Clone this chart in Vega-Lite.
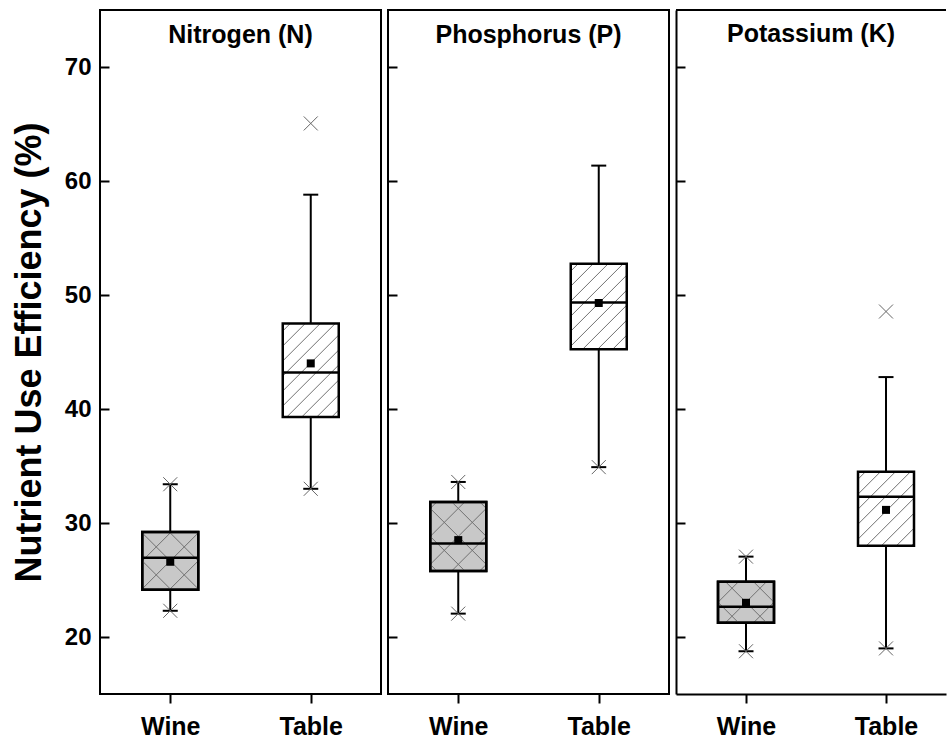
{
  "$schema": "https://vega.github.io/schema/vega-lite/v6.json",
  "padding": {"left": 10, "top": 9, "right": 0, "bottom": 0},
  "background": "white",
  "bounds": "flush",
  "spacing": 7,
  "config": {
    "font": "Liberation Sans",
    "view": {"stroke": "black", "strokeWidth": 2},
    "axis": {"grid": false, "domain": false, "labelColor": "black", "tickColor": "black", "tickWidth": 2, "labelFontWeight": "bold", "titleFontWeight": "bold", "titleColor": "black"},
    "tick": {"opacity": 1},
    "title": {"fontSize": 25, "fontWeight": "bold", "color": "black", "frame": "group", "anchor": "middle", "baseline": "alphabetic", "offset": -38}
  },
  "datasets": {
    "boxes": [
      {"nutrient": "N", "type": "Wine", "min": 22.3, "q1": 24.15, "median": 26.95, "q3": 29.2, "max": 33.4, "mean": 26.6},
      {"nutrient": "N", "type": "Table", "min": 33.0, "q1": 39.3, "median": 43.2, "q3": 47.5, "max": 58.8, "mean": 44.0},
      {"nutrient": "P", "type": "Wine", "min": 22.05, "q1": 25.8, "median": 28.2, "q3": 31.85, "max": 33.6, "mean": 28.5},
      {"nutrient": "P", "type": "Table", "min": 34.9, "q1": 45.25, "median": 49.35, "q3": 52.75, "max": 61.35, "mean": 49.3},
      {"nutrient": "K", "type": "Wine", "min": 18.75, "q1": 21.25, "median": 22.65, "q3": 24.85, "max": 27.05, "mean": 23.0},
      {"nutrient": "K", "type": "Table", "min": 19.0, "q1": 28.0, "median": 32.3, "q3": 34.5, "max": 42.8, "mean": 31.15}
    ],
    "crosses": [
      {"nutrient": "N", "type": "Wine", "value": 22.3},
      {"nutrient": "N", "type": "Wine", "value": 33.4},
      {"nutrient": "N", "type": "Table", "value": 33.0},
      {"nutrient": "N", "type": "Table", "value": 65.05},
      {"nutrient": "P", "type": "Wine", "value": 22.05},
      {"nutrient": "P", "type": "Wine", "value": 33.6},
      {"nutrient": "P", "type": "Table", "value": 34.9},
      {"nutrient": "K", "type": "Wine", "value": 18.75},
      {"nutrient": "K", "type": "Wine", "value": 27.05},
      {"nutrient": "K", "type": "Table", "value": 19.0},
      {"nutrient": "K", "type": "Table", "value": 48.55}
    ]
  },
  "hconcat": [
    {
      "width": 281, "height": 684,
      "title": {"text": "Nitrogen (N)"},
      "resolve": {"axis": {"y": "independent"}},
      "encoding": {
        "x": {"field": "type", "type": "nominal", "sort": ["Wine", "Table"], "scale": {"type": "point", "padding": 0.5},
              "axis": {"title": null, "labelAngle": 0, "labelFontSize": 25, "labelPadding": 11, "tickSize": 9}}
      },
      "layer": [
        {"data": {"name": "boxes"}, "transform": [{"filter": "datum.nutrient === 'N'"}],
         "layer": [
          {"mark": {"type": "rule", "color": "black", "strokeWidth": 2},
           "encoding": {"y": {"field": "min", "type": "quantitative", "scale": {"domain": [15, 75], "nice": false, "zero": false},
                              "axis": {"orient": "left", "title": null, "labels": false, "tickSize": 9, "offset": -9, "values": [20, 30, 40, 50, 60, 70]}},
                        "y2": {"field": "max"}}},
          {"mark": {"type": "tick", "color": "black", "size": 15, "thickness": 2}, "encoding": {"y": {"field": "min", "type": "quantitative"}}},
          {"mark": {"type": "tick", "color": "black", "size": 15, "thickness": 2}, "encoding": {"y": {"field": "max", "type": "quantitative"}}},
          {"mark": {"type": "bar", "size": 56, "stroke": "black", "strokeWidth": 2.5},
           "encoding": {"y": {"field": "q1", "type": "quantitative"}, "y2": {"field": "q3"},
                        "fill": {"condition": {"test": "datum.type === 'Wine'",
                                   "value": {"gradient": "linear", "x1": 0, "y1": 0, "x2": 0.9857, "y2": 1.0139, "stops": [
                                     {"offset": 0.2447, "color": "#c8c8c8"}, {"offset": 0.2535, "color": "#707070"}, {"offset": 0.2623, "color": "#c8c8c8"},
                                     {"offset": 0.4912, "color": "#c8c8c8"}, {"offset": 0.5, "color": "#707070"}, {"offset": 0.5088, "color": "#c8c8c8"},
                                     {"offset": 0.7377, "color": "#c8c8c8"}, {"offset": 0.7465, "color": "#707070"}, {"offset": 0.7553, "color": "#c8c8c8"}]}},
                                 "value": {"gradient": "linear", "x1": 0, "y1": 0, "x2": 0.7048, "y2": 1.1768, "stops": [
                                     {"offset": 0.0435, "color": "#ffffff"}, {"offset": 0.0502, "color": "#707070"}, {"offset": 0.0569, "color": "#ffffff"},
                                     {"offset": 0.1438, "color": "#ffffff"}, {"offset": 0.1505, "color": "#707070"}, {"offset": 0.1572, "color": "#ffffff"},
                                     {"offset": 0.2441, "color": "#ffffff"}, {"offset": 0.2508, "color": "#707070"}, {"offset": 0.2575, "color": "#ffffff"},
                                     {"offset": 0.3445, "color": "#ffffff"}, {"offset": 0.3512, "color": "#707070"}, {"offset": 0.3579, "color": "#ffffff"},
                                     {"offset": 0.4448, "color": "#ffffff"}, {"offset": 0.4515, "color": "#707070"}, {"offset": 0.4582, "color": "#ffffff"},
                                     {"offset": 0.5452, "color": "#ffffff"}, {"offset": 0.5518, "color": "#707070"}, {"offset": 0.5585, "color": "#ffffff"},
                                     {"offset": 0.6455, "color": "#ffffff"}, {"offset": 0.6522, "color": "#707070"}, {"offset": 0.6589, "color": "#ffffff"},
                                     {"offset": 0.7458, "color": "#ffffff"}, {"offset": 0.7525, "color": "#707070"}, {"offset": 0.7592, "color": "#ffffff"},
                                     {"offset": 0.8462, "color": "#ffffff"}, {"offset": 0.8528, "color": "#707070"}, {"offset": 0.8595, "color": "#ffffff"},
                                     {"offset": 0.9465, "color": "#ffffff"}, {"offset": 0.9532, "color": "#707070"}, {"offset": 0.9599, "color": "#ffffff"}]}}}},
          {"transform": [{"filter": "datum.type === 'Wine'"}],
           "mark": {"type": "bar", "size": 56, "stroke": "black", "strokeWidth": 2.5,
                    "fill": {"gradient": "linear", "x1": 0, "y1": 1, "x2": 0.9857, "y2": -0.0139, "stops": [
                      {"offset": 0.2447, "color": "rgba(112,112,112,0)"}, {"offset": 0.2535, "color": "#707070"}, {"offset": 0.2623, "color": "rgba(112,112,112,0)"},
                      {"offset": 0.4912, "color": "rgba(112,112,112,0)"}, {"offset": 0.5, "color": "#707070"}, {"offset": 0.5088, "color": "rgba(112,112,112,0)"},
                      {"offset": 0.7377, "color": "rgba(112,112,112,0)"}, {"offset": 0.7465, "color": "#707070"}, {"offset": 0.7553, "color": "rgba(112,112,112,0)"}]}},
           "encoding": {"y": {"field": "q1", "type": "quantitative"}, "y2": {"field": "q3"}}},
          {"mark": {"type": "tick", "color": "black", "size": 56, "thickness": 2.5}, "encoding": {"y": {"field": "median", "type": "quantitative"}}},
          {"mark": {"type": "square", "color": "black", "size": 64, "opacity": 1}, "encoding": {"y": {"field": "mean", "type": "quantitative"}}}
         ]},
        {"data": {"name": "crosses"}, "transform": [{"filter": "datum.nutrient === 'N'"}],
         "mark": {"type": "point", "shape": "M-1,-1L1,1M-1,1L1,-1", "size": 196, "stroke": "#666666", "strokeWidth": 1, "filled": false, "opacity": 1},
         "encoding": {"y": {"field": "value", "type": "quantitative",
                            "axis": {"orient": "left", "title": "Nutrient Use Efficiency (%)", "titleFontSize": 36, "titlePadding": 16, "labelFontSize": 24, "labelPadding": 9, "ticks": false, "values": [20, 30, 40, 50, 60, 70]}}}}
      ]
    },
    {
      "width": 281, "height": 684,
      "title": {"text": "Phosphorus (P)"},
      "encoding": {
        "x": {"field": "type", "type": "nominal", "sort": ["Wine", "Table"], "scale": {"type": "point", "padding": 0.5},
              "axis": {"title": null, "labelAngle": 0, "labelFontSize": 25, "labelPadding": 11, "tickSize": 9}}
      },
      "layer": [
        {"data": {"name": "boxes"}, "transform": [{"filter": "datum.nutrient === 'P'"}],
         "layer": [
          {"mark": {"type": "rule", "color": "black", "strokeWidth": 2},
           "encoding": {"y": {"field": "min", "type": "quantitative", "scale": {"domain": [15, 75], "nice": false, "zero": false},
                              "axis": {"title": null, "labels": false, "tickSize": 9, "offset": -9, "values": [20, 30, 40, 50, 60, 70]}},
                        "y2": {"field": "max"}}},
          {"mark": {"type": "tick", "color": "black", "size": 15, "thickness": 2}, "encoding": {"y": {"field": "min", "type": "quantitative"}}},
          {"mark": {"type": "tick", "color": "black", "size": 15, "thickness": 2}, "encoding": {"y": {"field": "max", "type": "quantitative"}}},
          {"mark": {"type": "bar", "size": 56, "stroke": "black", "strokeWidth": 2.5},
           "encoding": {"y": {"field": "q1", "type": "quantitative"}, "y2": {"field": "q3"},
                        "fill": {"condition": {"test": "datum.type === 'Wine'",
                                   "value": {"gradient": "linear", "x1": 0, "y1": 0, "x2": 0.8864, "y2": 1.0922, "stops": [
                                     {"offset": 0.044, "color": "#c8c8c8"}, {"offset": 0.052, "color": "#707070"}, {"offset": 0.06, "color": "#c8c8c8"},
                                     {"offset": 0.268, "color": "#c8c8c8"}, {"offset": 0.276, "color": "#707070"}, {"offset": 0.284, "color": "#c8c8c8"},
                                     {"offset": 0.492, "color": "#c8c8c8"}, {"offset": 0.5, "color": "#707070"}, {"offset": 0.508, "color": "#c8c8c8"},
                                     {"offset": 0.716, "color": "#c8c8c8"}, {"offset": 0.724, "color": "#707070"}, {"offset": 0.732, "color": "#c8c8c8"},
                                     {"offset": 0.94, "color": "#c8c8c8"}, {"offset": 0.948, "color": "#707070"}, {"offset": 0.956, "color": "#c8c8c8"}]}},
                                 "value": {"gradient": "linear", "x1": 0, "y1": 0, "x2": 0.7586, "y2": 1.1582, "stops": [
                                     {"offset": 0.0459, "color": "#ffffff"}, {"offset": 0.053, "color": "#707070"}, {"offset": 0.0601, "color": "#ffffff"},
                                     {"offset": 0.1519, "color": "#ffffff"}, {"offset": 0.159, "color": "#707070"}, {"offset": 0.1661, "color": "#ffffff"},
                                     {"offset": 0.258, "color": "#ffffff"}, {"offset": 0.265, "color": "#707070"}, {"offset": 0.2721, "color": "#ffffff"},
                                     {"offset": 0.364, "color": "#ffffff"}, {"offset": 0.371, "color": "#707070"}, {"offset": 0.3781, "color": "#ffffff"},
                                     {"offset": 0.47, "color": "#ffffff"}, {"offset": 0.477, "color": "#707070"}, {"offset": 0.4841, "color": "#ffffff"},
                                     {"offset": 0.576, "color": "#ffffff"}, {"offset": 0.583, "color": "#707070"}, {"offset": 0.5901, "color": "#ffffff"},
                                     {"offset": 0.682, "color": "#ffffff"}, {"offset": 0.689, "color": "#707070"}, {"offset": 0.6961, "color": "#ffffff"},
                                     {"offset": 0.788, "color": "#ffffff"}, {"offset": 0.7951, "color": "#707070"}, {"offset": 0.8021, "color": "#ffffff"},
                                     {"offset": 0.894, "color": "#ffffff"}, {"offset": 0.9011, "color": "#707070"}, {"offset": 0.9081, "color": "#ffffff"}]}}}},
          {"transform": [{"filter": "datum.type === 'Wine'"}],
           "mark": {"type": "bar", "size": 56, "stroke": "black", "strokeWidth": 2.5,
                    "fill": {"gradient": "linear", "x1": 0, "y1": 1, "x2": 0.8864, "y2": -0.0922, "stops": [
                      {"offset": 0.044, "color": "rgba(112,112,112,0)"}, {"offset": 0.052, "color": "#707070"}, {"offset": 0.06, "color": "rgba(112,112,112,0)"},
                      {"offset": 0.268, "color": "rgba(112,112,112,0)"}, {"offset": 0.276, "color": "#707070"}, {"offset": 0.284, "color": "rgba(112,112,112,0)"},
                      {"offset": 0.492, "color": "rgba(112,112,112,0)"}, {"offset": 0.5, "color": "#707070"}, {"offset": 0.508, "color": "rgba(112,112,112,0)"},
                      {"offset": 0.716, "color": "rgba(112,112,112,0)"}, {"offset": 0.724, "color": "#707070"}, {"offset": 0.732, "color": "rgba(112,112,112,0)"},
                      {"offset": 0.94, "color": "rgba(112,112,112,0)"}, {"offset": 0.948, "color": "#707070"}, {"offset": 0.956, "color": "rgba(112,112,112,0)"}]}},
           "encoding": {"y": {"field": "q1", "type": "quantitative"}, "y2": {"field": "q3"}}},
          {"mark": {"type": "tick", "color": "black", "size": 56, "thickness": 2.5}, "encoding": {"y": {"field": "median", "type": "quantitative"}}},
          {"mark": {"type": "square", "color": "black", "size": 64, "opacity": 1}, "encoding": {"y": {"field": "mean", "type": "quantitative"}}}
         ]},
        {"data": {"name": "crosses"}, "transform": [{"filter": "datum.nutrient === 'P'"}],
         "mark": {"type": "point", "shape": "M-1,-1L1,1M-1,1L1,-1", "size": 196, "stroke": "#666666", "strokeWidth": 1, "filled": false, "opacity": 1},
         "encoding": {"y": {"field": "value", "type": "quantitative"}}}
      ]
    },
    {
      "width": 270, "height": 684,
      "view": {"stroke": null},
      "title": {"text": "Potassium (K)"},
      "layer": [
        {"data": {"name": "boxes"}, "transform": [{"filter": "datum.nutrient === 'K'"}],
         "encoding": {
           "x": {"field": "type", "type": "nominal", "sort": ["Wine", "Table"], "scale": {"type": "point", "padding": 0.4643, "align": 0.5385},
                 "axis": {"title": null, "labelAngle": 0, "labelFontSize": 25, "labelPadding": 11, "tickSize": 9, "domain": true, "domainColor": "black", "domainWidth": 2}}
         },
         "layer": [
          {"mark": {"type": "rule", "color": "black", "strokeWidth": 2},
           "encoding": {"y": {"field": "min", "type": "quantitative", "scale": {"domain": [15, 75], "nice": false, "zero": false},
                              "axis": {"title": null, "labels": false, "tickSize": -9, "domain": true, "domainColor": "black", "domainWidth": 2, "values": [20, 30, 40, 50, 60, 70]}},
                        "y2": {"field": "max"}}},
          {"mark": {"type": "tick", "color": "black", "size": 15, "thickness": 2}, "encoding": {"y": {"field": "min", "type": "quantitative"}}},
          {"mark": {"type": "tick", "color": "black", "size": 15, "thickness": 2}, "encoding": {"y": {"field": "max", "type": "quantitative"}}},
          {"mark": {"type": "bar", "size": 56, "stroke": "black", "strokeWidth": 2.5},
           "encoding": {"y": {"field": "q1", "type": "quantitative"}, "y2": {"field": "q3"},
                        "fill": {"condition": {"test": "datum.type === 'Wine'",
                                   "value": {"gradient": "linear", "x1": 0, "y1": 0, "x2": 1.1277, "y2": 0.8256, "stops": [
                                     {"offset": 0.201, "color": "#c8c8c8"}, {"offset": 0.2113, "color": "#707070"}, {"offset": 0.2216, "color": "#c8c8c8"},
                                     {"offset": 0.4897, "color": "#c8c8c8"}, {"offset": 0.5, "color": "#707070"}, {"offset": 0.5103, "color": "#c8c8c8"},
                                     {"offset": 0.7784, "color": "#c8c8c8"}, {"offset": 0.7887, "color": "#707070"}, {"offset": 0.799, "color": "#c8c8c8"}]}},
                                 "value": {"gradient": "linear", "x1": 0, "y1": 0, "x2": 0.8445, "y2": 1.1175, "stops": [
                                     {"offset": 0.0499, "color": "#ffffff"}, {"offset": 0.0576, "color": "#707070"}, {"offset": 0.0653, "color": "#ffffff"},
                                     {"offset": 0.1653, "color": "#ffffff"}, {"offset": 0.1729, "color": "#707070"}, {"offset": 0.1806, "color": "#ffffff"},
                                     {"offset": 0.2806, "color": "#ffffff"}, {"offset": 0.2882, "color": "#707070"}, {"offset": 0.2959, "color": "#ffffff"},
                                     {"offset": 0.3958, "color": "#ffffff"}, {"offset": 0.4035, "color": "#707070"}, {"offset": 0.4112, "color": "#ffffff"},
                                     {"offset": 0.5111, "color": "#ffffff"}, {"offset": 0.5188, "color": "#707070"}, {"offset": 0.5265, "color": "#ffffff"},
                                     {"offset": 0.6264, "color": "#ffffff"}, {"offset": 0.6341, "color": "#707070"}, {"offset": 0.6418, "color": "#ffffff"},
                                     {"offset": 0.7417, "color": "#ffffff"}, {"offset": 0.7494, "color": "#707070"}, {"offset": 0.7571, "color": "#ffffff"},
                                     {"offset": 0.857, "color": "#ffffff"}, {"offset": 0.8647, "color": "#707070"}, {"offset": 0.8724, "color": "#ffffff"},
                                     {"offset": 0.9723, "color": "#ffffff"}, {"offset": 0.98, "color": "#707070"}, {"offset": 0.9877, "color": "#ffffff"}]}}}},
          {"transform": [{"filter": "datum.type === 'Wine'"}],
           "mark": {"type": "bar", "size": 56, "stroke": "black", "strokeWidth": 2.5,
                    "fill": {"gradient": "linear", "x1": 0, "y1": 1, "x2": 1.1277, "y2": 0.1744, "stops": [
                      {"offset": 0.201, "color": "rgba(112,112,112,0)"}, {"offset": 0.2113, "color": "#707070"}, {"offset": 0.2216, "color": "rgba(112,112,112,0)"},
                      {"offset": 0.4897, "color": "rgba(112,112,112,0)"}, {"offset": 0.5, "color": "#707070"}, {"offset": 0.5103, "color": "rgba(112,112,112,0)"},
                      {"offset": 0.7784, "color": "rgba(112,112,112,0)"}, {"offset": 0.7887, "color": "#707070"}, {"offset": 0.799, "color": "rgba(112,112,112,0)"}]}},
           "encoding": {"y": {"field": "q1", "type": "quantitative"}, "y2": {"field": "q3"}}},
          {"mark": {"type": "tick", "color": "black", "size": 56, "thickness": 2.5}, "encoding": {"y": {"field": "median", "type": "quantitative"}}},
          {"mark": {"type": "square", "color": "black", "size": 64, "opacity": 1}, "encoding": {"y": {"field": "mean", "type": "quantitative"}}}
         ]},
        {"data": {"name": "crosses"}, "transform": [{"filter": "datum.nutrient === 'K'"}],
         "mark": {"type": "point", "shape": "M-1,-1L1,1M-1,1L1,-1", "size": 196, "stroke": "#666666", "strokeWidth": 1, "filled": false, "opacity": 1},
         "encoding": {"x": {"field": "type", "type": "nominal", "sort": ["Wine", "Table"]},
                      "y": {"field": "value", "type": "quantitative"}}},
        {"data": {"values": [{}]},
         "mark": {"type": "rule", "color": "black", "strokeWidth": 2},
         "encoding": {"y": {"datum": 75}}}
      ]
    }
  ]
}
